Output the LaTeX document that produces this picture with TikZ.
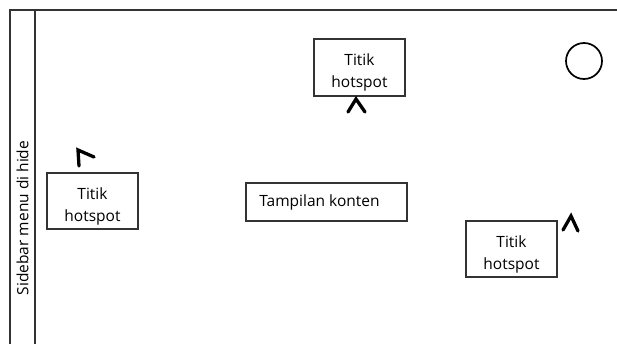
\documentclass[tikz,border=0pt]{standalone}
\usepackage{fontspec}
\setmainfont{Open Sans}
\begin{document}
\begin{tikzpicture}[x=1pt,y=-1pt,
  hbox/.style={draw=black!80,line width=1.1pt,minimum width=91pt,minimum height=56pt,inner sep=0pt,
    label={[font=\fontsize{15.5}{22}\selectfont,align=center,yshift=-5pt]center:Titik\\hotspot}},
  cbox/.style={draw=black!80,line width=1.1pt,minimum width=161pt,minimum height=38pt,inner sep=0pt,font=\fontsize{15.5}{18}\selectfont},
  caret/.style={line width=3.3pt,line cap=round,line join=miter},
  frame/.style={draw=black!80,line width=1.3pt}]
\useasboundingbox (0,0) rectangle (617,343);
\coordinate (ftr) at (619,10);
\coordinate (ftl) at (10,10);
\coordinate (fbl) at (10,345);
\coordinate (stop) at (35,10);
\coordinate (sbot) at (35,345);
\draw[frame] (ftr) -- (ftl) -- (fbl);
\draw[frame] (stop) -- (sbot);
\node[rotate=90,font=\fontsize{15.5}{18}\selectfont] (side) at (22.5,218) {Sidebar menu di hide};
\node[hbox] (h1) at (92.5,201) {};
\node[hbox,minimum height=57pt] (h2) at (359.5,67.5) {};
\node[hbox] (h3) at (511.5,249) {};
\node[cbox] (tk) at (326.5,202) {Tampilan konten\hspace*{14pt}};
\node[draw=black,line width=1.7pt,circle,minimum size=36pt,inner sep=0pt] (c) at (584,61) {};
\draw[caret] (79,166) -- (78,150) -- (94,157);
\draw[caret] (348,112) -- (356,99) -- (365,112);
\draw[caret] (563,230) -- (571,216) -- (578,231);
\end{tikzpicture}
\end{document}
